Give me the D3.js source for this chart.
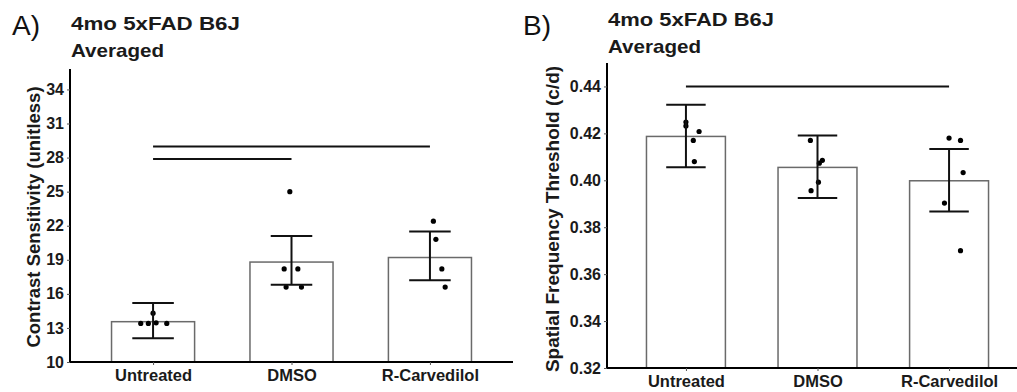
<!DOCTYPE html>
<html>
<head>
<meta charset="utf-8">
<script src="https://cdn.jsdelivr.net/npm/d3@7"></script>
<style>
  body { margin: 0; background: #fff; }
  svg text { font-family: "Liberation Sans", Arial, sans-serif; }
</style>
</head>
<body>
<svg id="chart" width="1017" height="392"></svg>
<script>
const groups = ['Untreated', 'DMSO', 'R-Carvedilol'];

// A) contrast sensitivity
const csMean = [13.55, 18.8, 19.2];
const csSd = [1.55, 2.15, 2.15];
const csErrCenter = [13.65, 18.95, 19.35];
const csPoints = [
  [14.3, 13.4, 13.4, 13.45, 13.4],
  [25.0, 18.2, 18.2, 16.6, 16.6],
  [22.4, 20.8, 18.2, 16.6]
];
const csJitter = [
  [0, -0.089, -0.034, 0.022, 0.099],
  [-0.012, -0.053, 0.046, -0.039, 0.072],
  [0.025, 0.043, 0.086, 0.11]
];
const csTicks = [10, 13, 16, 19, 22, 25, 28, 31, 34];
const csSig = [{ from: 1, to: 3, y: 28.97 }, { from: 1, to: 2, y: 27.87 }];

// B) spatial frequency threshold
const sfMean = [0.4187, 0.4055, 0.3998];
const sfSd = [0.0133, 0.0133, 0.0133];
const sfErrCenter = [0.4189, 0.4058, 0.40];
const sfPoints = [
  [0.4248, 0.4232, 0.4208, 0.417, 0.408],
  [0.417, 0.4085, 0.4073, 0.3992, 0.3956],
  [0.418, 0.417, 0.4033, 0.3903, 0.370]
];
const sfJitter = [
  [0, 0, 0.1, 0.056, 0.064],
  [-0.054, 0.037, 0.014, 0.007, -0.049],
  [0, 0.087, 0.107, -0.035, 0.087]
];
const sfTicks = [0.32, 0.34, 0.36, 0.38, 0.40, 0.42, 0.44];
const sfSig = [{ from: 1, to: 3, y: 0.44 }];

const svg = d3.select('#chart');

function drawPanel(p) {
  const g = svg.append('g');

  const x = d3.scaleLinear().domain([0.4, 3.6]).range([p.left, p.right]);
  const y = d3.scaleLinear().domain(p.domain).range([p.bottom, p.top]);
  const bandW = x(1.6) - x(1);
  const capW = x(1.3) - x(1);

  // bars
  g.selectAll('rect.bar').data(p.mean).enter()
    .append('rect')
    .attr('class', 'bar')
    .attr('x', (d, i) => x(i + 1) - bandW / 2)
    .attr('width', bandW)
    .attr('y', d => y(d))
    .attr('height', d => p.bottom - y(d))
    .attr('fill', '#fff')
    .attr('stroke', '#6a6a6a')
    .attr('stroke-width', 1.5);

  // points
  p.points.forEach((pts, i) => {
    g.selectAll(null).data(pts).enter()
      .append('circle')
      .attr('cx', (d, j) => x(i + 1 + p.jitter[i][j]))
      .attr('cy', d => y(d))
      .attr('r', 2.6)
      .attr('fill', '#000');
  });

  // error bars
  const eb = g.selectAll('g.err').data(p.errCenter).enter().append('g').attr('class', 'err');
  eb.append('line')
    .attr('x1', (d, i) => x(i + 1)).attr('x2', (d, i) => x(i + 1))
    .attr('y1', (d, i) => y(d - p.sd[i])).attr('y2', (d, i) => y(d + p.sd[i]));
  eb.append('line')
    .attr('x1', (d, i) => x(i + 1) - capW / 2).attr('x2', (d, i) => x(i + 1) + capW / 2)
    .attr('y1', (d, i) => y(d + p.sd[i])).attr('y2', (d, i) => y(d + p.sd[i]));
  eb.append('line')
    .attr('x1', (d, i) => x(i + 1) - capW / 2).attr('x2', (d, i) => x(i + 1) + capW / 2)
    .attr('y1', (d, i) => y(d - p.sd[i])).attr('y2', (d, i) => y(d - p.sd[i]));
  eb.selectAll('line').attr('stroke', '#111').attr('stroke-width', 2);

  // significance lines
  g.selectAll('line.sig').data(p.sig).enter()
    .append('line')
    .attr('x1', d => x(d.from)).attr('x2', d => x(d.to))
    .attr('y1', d => y(d.y)).attr('y2', d => y(d.y))
    .attr('stroke', '#111').attr('stroke-width', 2);

  // y axis
  const yAxis = g.append('g')
    .attr('transform', `translate(${p.left},0)`)
    .call(d3.axisLeft(y).tickValues(p.ticks).tickSize(3).tickPadding(3).tickFormat(p.fmt));
  yAxis.select('.domain').attr('stroke', '#000').attr('stroke-width', 2)
    .attr('d', `M0,${p.bottom}V${p.top}`);
  yAxis.selectAll('.tick line').attr('stroke', '#555');
  yAxis.selectAll('.tick text')
    .attr('fill', '#1a1a1a').style('font-size', '16px').style('font-weight', 'bold');

  // x axis
  const xAxis = g.append('g')
    .attr('transform', `translate(0,${p.bottom})`)
    .call(d3.axisBottom(x).tickValues([1, 2, 3]).tickSize(3).tickPadding(4)
      .tickFormat(d => groups[d - 1]));
  xAxis.select('.domain').attr('stroke', '#000').attr('stroke-width', 2)
    .attr('d', `M${p.left},0H${p.right}`);
  xAxis.selectAll('.tick line').attr('stroke', '#555');
  xAxis.selectAll('.tick text')
    .attr('fill', '#1a1a1a').style('font-size', '16.5px').style('font-weight', 'bold');

  // y label
  g.append('text')
    .attr('transform', `translate(${p.ylabX},${p.ylabY}) rotate(-90)`)
    .attr('text-anchor', 'middle')
    .attr('fill', '#1a1a1a')
    .style('font-size', p.ylabSize + 'px').style('font-weight', 'bold')
    .text(p.ylab);

  // titles and panel letter
  g.append('text').attr('x', p.left + 1).attr('y', p.titleY)
    .attr('fill', '#1a1a1a').style('font-size', '19px').style('font-weight', 'bold')
    .attr('textLength', p.titleW).attr('lengthAdjust', 'spacingAndGlyphs')
    .text('4mo 5xFAD B6J');
  g.append('text').attr('x', p.left + 1).attr('y', p.titleY + 26.5)
    .attr('fill', '#1a1a1a').style('font-size', '19px').style('font-weight', 'bold')
    .attr('textLength', 93).attr('lengthAdjust', 'spacingAndGlyphs')
    .text('Averaged');
  g.append('text').attr('x', p.letterX).attr('y', p.letterY)
    .attr('fill', '#111').style('font-size', '28px')
    .text(p.letter);
}

drawPanel({
  left: 70, right: 513, top: 69, bottom: 362,
  domain: [10, 35.8],
  mean: csMean, sd: csSd, errCenter: csErrCenter,
  points: csPoints, jitter: csJitter, ticks: csTicks, sig: csSig,
  fmt: d3.format('d'),
  ylab: 'Contrast Sensitivity (unitless)', ylabX: 40, ylabY: 217, ylabSize: 18.5,
  titleY: 30, titleW: 169, letter: 'A)', letterX: 12, letterY: 35
});

drawPanel({
  left: 607, right: 1028, top: 63, bottom: 368,
  domain: [0.32, 0.45],
  mean: sfMean, sd: sfSd, errCenter: sfErrCenter,
  points: sfPoints, jitter: sfJitter, ticks: sfTicks, sig: sfSig,
  fmt: d3.format('.2f'),
  ylab: 'Spatial Frequency Threshold (c/d)', ylabX: 559, ylabY: 219, ylabSize: 19,
  titleY: 26, titleW: 166, letter: 'B)', letterX: 523, letterY: 35
});
</script>
</body>
</html>
